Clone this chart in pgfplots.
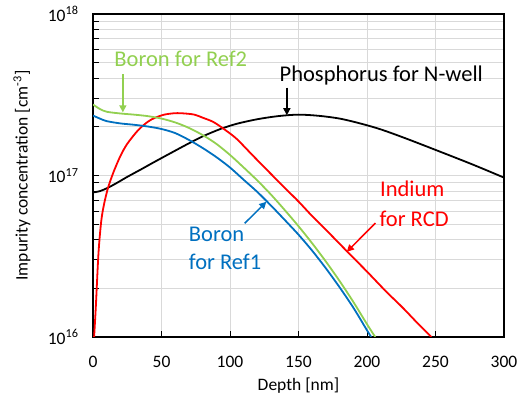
\documentclass[border=0pt]{standalone}
\usepackage{fontspec}
\setmainfont{Carlito}
\usepackage{pgfplots}
\pgfplotsset{compat=1.18}
\usetikzlibrary{arrows.meta}
\definecolor{cgreen}{HTML}{92D050}
\definecolor{cblue}{HTML}{0070C0}
\definecolor{cred}{HTML}{FF0000}
\definecolor{cgrid}{HTML}{D9D9D9}
\begin{document}
\begin{tikzpicture}
\path[use as bounding box] (-93pt,-64pt) rectangle (433pt,337pt);
\begin{axis}[
  at={(0pt,0pt)}, anchor=south west,
  scale only axis, width=411pt, height=323pt,
  xmin=0, xmax=300, ymode=log, ymin=1e16, ymax=1e18,
  xtick={0,50,...,300},
  ytick={1e16,1e17,1e18},
  yticklabels={10\textsuperscript{16},10\textsuperscript{17},10\textsuperscript{18}},
  /pgf/number format/assume math mode=true,
  axis line style={black, line width=1.6pt},
  tick style={black, line width=1pt},
  major tick length=6pt, minor tick length=6pt,
  tick align=inside, tick pos=left,
  xmajorgrids, ymajorgrids, yminorgrids,
  grid style={cgrid, line width=1pt},
  minor grid style={cgrid, line width=1pt},
  tick label style={font=\fontsize{17.5}{20}\selectfont},
  xticklabel style={anchor=center, yshift=-25pt},
  yticklabel style={anchor=east, xshift=-11pt},
  every axis y label/.style={at={(rel axis cs:-0.1728,0.5)}, rotate=90, anchor=center, font=\fontsize{17.5}{20}\selectfont},
  every axis x label/.style={at={(rel axis cs:0.5,-0.1517)}, anchor=center, font=\fontsize{17.5}{20}\selectfont},
  xlabel={Depth [nm]},
  ylabel={Impurity concentration [cm\textsuperscript{-3}]},
  every axis plot/.append style={line width=1.8pt, smooth},
]
% Phosphorus for N-well
\addplot[black] coordinates {
(0,7.85e16) (5,8.0e16) (11,8.4e16) (18,9.05e16) (25,9.8e16) (35,1.09e17)
(45,1.215e17) (57,1.38e17) (69,1.565e17) (80,1.745e17) (93,1.94e17) (105,2.09e17)
(120,2.23e17) (135,2.33e17) (150,2.38e17) (165,2.34e17) (180,2.25e17)
(195,2.10e17) (210,1.93e17) (228,1.70e17) (250,1.44e17) (277,1.17e17) (300,9.7e16)
};
% Indium for RCD
\addplot[cred] coordinates {
(0.8,1e16) (2,1.5e16) (4,3.3e16) (6,5.2e16) (8,6.6e16) (11,8.4e16) (15,1.05e17)
(20,1.32e17) (25,1.57e17) (33,1.91e17) (40,2.15e17) (45,2.27e17) (52,2.38e17)
(60,2.43e17) (67,2.42e17) (74,2.38e17) (80,2.28e17) (88,2.14e17) (97,1.90e17)
(105,1.68e17) (117,1.32e17) (129,1.04e17) (140,8.37e16) (150,6.9e16) (160,5.6e16)
(172,4.43e16) (186,3.35e16) (200,2.54e16) (214,1.91e16) (226,1.52e16) (238,1.19e16)
(247,1.0e16)
};
% Boron for Ref2
\addplot[cgreen] coordinates {
(0,2.75e17) (5,2.58e17) (10,2.48e17) (20,2.42e17) (30,2.38e17) (40,2.33e17)
(50,2.25e17) (60,2.13e17) (70,1.97e17) (80,1.78e17) (90,1.57e17) (100,1.34e17)
(110,1.12e17) (120,9.3e16) (130,7.6e16) (140,6.1e16) (150,4.85e16) (160,3.8e16)
(170,2.93e16) (180,2.22e16) (190,1.65e16) (200,1.2e16) (206,1.0e16)
};
% Boron for Ref1
\addplot[cblue] coordinates {
(0,2.35e17) (5,2.25e17) (10,2.17e17) (20,2.10e17) (30,2.06e17) (40,2.01e17)
(50,1.94e17) (60,1.83e17) (70,1.66e17) (80,1.48e17) (90,1.30e17) (100,1.12e17)
(110,9.4e16) (120,7.9e16) (130,6.5e16) (140,5.3e16) (150,4.3e16) (160,3.42e16)
(170,2.66e16) (180,2.03e16) (190,1.52e16) (200,1.1e16) (203,1.0e16)
};
% annotations
\node[cgreen, anchor=base, inner sep=0pt, font=\fontsize{22.5}{27}\selectfont] at (64.1,4.70e17) {Boron for Ref2};
\draw[cgreen, line width=1.5pt, -{Triangle[length=7pt,width=7pt]}] (21.8,4.23e17) -- (21.8,2.46e17);
\node[black, anchor=base, inner sep=0pt, font=\fontsize{22.5}{27}\selectfont] at (210.4,3.83e17) {Phosphorus for N-well};
\draw[black, line width=1.5pt, -{Triangle[length=7pt,width=7pt]}] (141.5,3.50e17) -- (141.5,2.36e17);
\node[cred, anchor=base west, inner sep=0pt, font=\fontsize{22.5}{27}\selectfont] at (209.4,7.38e16) {Indium};
\node[cred, anchor=base west, inner sep=0pt, font=\fontsize{22.5}{27}\selectfont] at (209.0,4.86e16) {for RCD};
\draw[cred, line width=1.5pt, -{Triangle[length=7pt,width=7pt]}] (206.1,5.07e16) -- (185.3,3.37e16);
\node[cblue, anchor=base west, inner sep=0pt, font=\fontsize{22.5}{27}\selectfont] at (69.9,3.886e16) {Boron};
\node[cblue, anchor=base west, inner sep=0pt, font=\fontsize{22.5}{27}\selectfont] at (69.9,2.623e16) {for Ref1};
\draw[cblue, line width=1.5pt, -{Triangle[length=7pt,width=7pt]}] (110.7,5.05e16) -- (126.5,6.87e16);
\end{axis}
\end{tikzpicture}
\end{document}
